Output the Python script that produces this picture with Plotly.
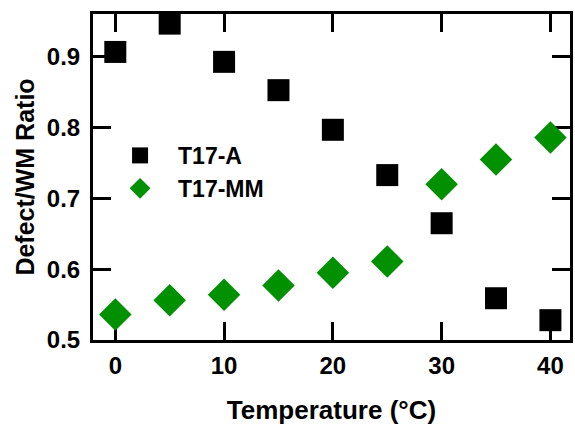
import plotly.graph_objects as go

temps = [0, 5, 10, 15, 20, 25, 30, 35, 40]
t17_a = [0.907, 0.947, 0.893, 0.853, 0.797, 0.733, 0.665, 0.559, 0.528]
t17_mm = [0.536, 0.556, 0.564, 0.577, 0.595, 0.611, 0.720, 0.755, 0.786]
x_ticks = [0, 10, 20, 30, 40]
y_ticks = [0.5, 0.6, 0.7, 0.8, 0.9]

FONT = "Liberation Sans, Arial, sans-serif"
XR = [-2.05, 41.8]
YR = [0.5, 0.9606]
W, H = 575, 425
ML, MR, MT, MB = 93, 2, 14, 82

fig = go.Figure()
fig.add_trace(go.Scatter(x=temps, y=t17_a, mode="markers", name="T17-A",
                         marker=dict(symbol="square", size=22, color="black")))
fig.add_trace(go.Scatter(x=temps, y=t17_mm, mode="markers", name="T17-MM",
                         marker=dict(symbol="diamond", size=25, color="#009000")))

fig.update_layout(
    width=W, height=H,
    margin=dict(l=ML, r=MR, t=MT, b=MB),
    plot_bgcolor="white", paper_bgcolor="white",
    font=dict(family=FONT, color="black"),
    showlegend=True,
    xaxis=dict(range=XR, tickvals=x_ticks, showline=True, linecolor="black", linewidth=3, mirror="allticks",
               ticks="inside", ticklen=18, tickwidth=3, tickcolor="black", layer="below traces",
               showgrid=False, zeroline=False, ticklabelstandoff=2,
               tickfont=dict(family=FONT, size=24, color="black", weight="bold"),
               title=dict(text="Temperature (°C)", font=dict(family=FONT, size=26, weight="bold"), standoff=26)),
    yaxis=dict(range=YR, tickvals=y_ticks, tickformat=".1f", showline=True, linecolor="black", linewidth=3,
               mirror="allticks", ticks="inside", ticklen=18, tickwidth=3, tickcolor="black",
               layer="below traces", showgrid=False, zeroline=False, ticklabelstandoff=5,
               tickfont=dict(family=FONT, size=24, color="black", weight="bold"),
               title=dict(text="Defect/WM Ratio", font=dict(family=FONT, size=25, weight="bold"), standoff=6)),
    legend=dict(x=0.019, y=0.632, xanchor="left", yanchor="top", bgcolor="rgba(0,0,0,0)",
                font=dict(family=FONT, size=23, weight="bold"), itemsizing="trace",
                itemwidth=66, tracegroupgap=0),
)

fig.write_html("out.html")
